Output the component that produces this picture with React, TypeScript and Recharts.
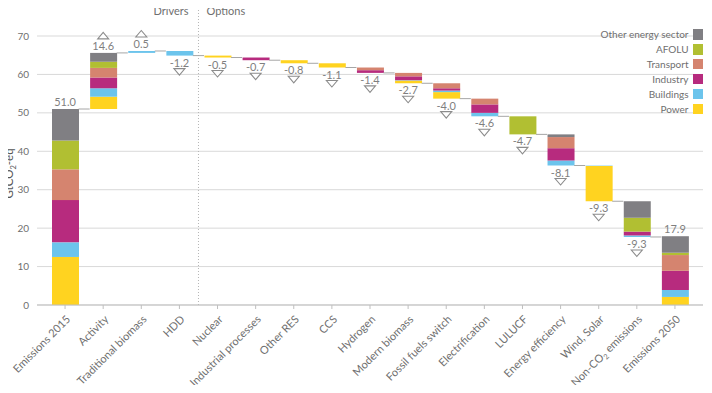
import React from 'react';
import { ComposedChart, Bar, Line, XAxis, YAxis, CartesianGrid, ReferenceLine } from 'recharts';

const categories = [
  'Emissions 2015', 'Activity', 'Traditional biomass', 'HDD', 'Nuclear', 'Industrial processes',
  'Other RES', 'CCS', 'Hydrogen', 'Modern biomass', 'Fossil fuels switch', 'Electrification',
  'LULUCF', 'Energy efficiency', 'Wind, Solar', 'Non-CO2 emissions', 'Emissions 2050',
];
const kinds = ['total', 'up', 'up', 'down', 'down', 'down', 'down', 'down', 'down', 'down', 'down', 'down', 'down', 'down', 'down', 'down', 'total'];
const changes = [51.0, 14.6, 0.5, -1.2, -0.5, -0.7, -0.8, -1.1, -1.4, -2.7, -4.0, -4.6, -4.7, -8.1, -9.3, -9.3, 17.9];

const power = [12.5, 3.2, 0, 0, 0.5, 0, 0.8, 1.1, 0, 0.7, 1.7, 0, 0, 0, 9.2, 0, 2.1];
const buildings = [3.8, 2.2, 0.5, 1.2, 0, 0, 0, 0, 0, 0.1, 0.4, 0.9, 0, 1.3, 0.1, 0.4, 1.8];
const industry = [11.0, 2.8, 0, 0, 0, 0.7, 0, 0, 0.7, 1.0, 0.6, 2.2, 0, 3.2, 0, 1.0, 5.0];
const transport = [8.0, 2.5, 0, 0, 0, 0, 0, 0, 0.7, 0.9, 1.3, 1.5, 0, 2.9, 0, 0, 4.1];
const afolu = [7.5, 1.6, 0, 0, 0, 0, 0, 0, 0, 0, 0, 0, 4.7, 0, 0, 3.6, 0.6];
const other = [8.2, 2.3, 0, 0, 0, 0, 0, 0, 0, 0, 0, 0, 0, 0.7, 0, 4.3, 4.3];

const yTicks = [0, 10, 20, 30, 40, 50, 60, 70];

const sectors = [
  { key: 'power', name: 'Power', color: '#FFD320', values: power },
  { key: 'buildings', name: 'Buildings', color: '#6CC4EC', values: buildings },
  { key: 'industry', name: 'Industry', color: '#B72B7E', values: industry },
  { key: 'transport', name: 'Transport', color: '#D5846F', values: transport },
  { key: 'afolu', name: 'AFOLU', color: '#B1BF32', values: afolu },
  { key: 'other', name: 'Other energy sector', color: '#807F83', values: other },
];

let level = 0;
const data = categories.map((name, i) => {
  const kind = kinds[i];
  let base = 0;
  let end = 0;
  if (kind === 'total') { base = 0; end = changes[i]; }
  else if (kind === 'up') { base = level; end = level + changes[i]; }
  else { end = level + changes[i]; base = end; }
  level = end;
  const row: any = { name, kind, base, end, change: changes[i], isLast: i === categories.length - 1 };
  sectors.forEach((s) => { row[s.key] = s.values[i]; });
  return row;
});

const TEXT = '#6f6f6f';

const Marker = (props: any) => {
  const { cx, cy, payload, index } = props;
  if (cx == null || cy == null) return <g key={`m${index}`} />;
  const half = 13.5;
  const band = 38.12;
  const isDown = payload.kind === 'down';
  return (
    <g key={`m${index}`}>
      {!payload.isLast && (
        <line x1={cx + half} x2={cx + band - half} y1={cy} y2={cy} stroke="#a6a6a6" strokeWidth={1} />
      )}
      <text x={cx} y={isDown ? cy + 11 : cy - 3} textAnchor="middle" fontSize={11} fill="#7f7f7f">
        {payload.change.toFixed(1)}
      </text>
      {payload.kind === 'up' && (
        <polygon
          points={`${cx - 5.5},${cy - 14} ${cx + 5.5},${cy - 14} ${cx},${cy - 20.5}`}
          fill="#fff" stroke="#8c8c8c" strokeWidth={1.1}
        />
      )}
      {isDown && (
        <polygon
          points={`${cx - 5.5},${cy + 13} ${cx + 5.5},${cy + 13} ${cx},${cy + 19.5}`}
          fill="#fff" stroke="#8c8c8c" strokeWidth={1.1}
        />
      )}
    </g>
  );
};

const XTick = (props: any) => {
  const { x, y, payload } = props;
  const v: string = payload.value;
  let content: any = v;
  if (v === 'Non-CO2 emissions') {
    content = (
      <>
        Non-CO<tspan fontSize={7.5} dy={2.5}>2</tspan><tspan dy={-2.5}> emissions</tspan>
      </>
    );
  }
  return (
    <g transform={`translate(${x + 6},${y + 9})`}>
      <text textAnchor="end" transform="rotate(-45)" fontSize={11} fill={TEXT}>
        {content}
      </text>
    </g>
  );
};

const YLabel = (props: any) => {
  const vb = props.viewBox || { x: 0, y: 36, width: 37, height: 269 };
  const x = vb.x + 13;
  const y = vb.y + vb.height / 2 + 3;
  return (
    <text x={x} y={y} transform={`rotate(-90, ${x}, ${y})`} textAnchor="middle" fontSize={11.5} fill="#555">
      GtCO<tspan fontSize={7.5} dy={2.5}>2</tspan><tspan dy={-2.5}>-eq</tspan>
    </text>
  );
};

const Divider = (p: any) => {
  const x = p.x1 + 19.06;
  const yb = Math.max(p.y1, p.y2);
  return (
    <g>
      <line x1={x} x2={x} y1={yb} y2={yb - 300} stroke="#b5b5b5" strokeWidth={1} strokeDasharray="1 2" />
      <text x={x - 10} y={yb - 290} textAnchor="end" fontSize={11} fill={TEXT}>Drivers</text>
      <text x={x + 8} y={yb - 290} textAnchor="start" fontSize={11} fill={TEXT}>Options</text>
    </g>
  );
};

export default function App() {
  const legendItems = [...sectors].reverse();
  return (
    <div style={{ margin: '-8px', position: 'relative', width: 712, height: 393, fontFamily: 'Lato, sans-serif', background: '#fff' }}>
      <ComposedChart
        width={712}
        height={393}
        data={data}
        margin={{ top: 36, right: 9, left: 0, bottom: 0 }}
        barSize={27}
        style={{ overflow: 'visible' }}
      >
        <CartesianGrid vertical={false} stroke="#d9d9d9" />
        <XAxis
          dataKey="name"
          interval={0}
          height={88}
          padding={{ left: 9, right: 9 }}
          tick={<XTick />}
          tickSize={4}
          axisLine={{ stroke: '#bfbfbf' }}
          tickLine={{ stroke: '#bfbfbf' }}
        />
        <YAxis
          width={37}
          domain={[0, 70]}
          ticks={yTicks}
          axisLine={false}
          tickLine={false}
          tick={{ fontSize: 10, fill: TEXT }}
          label={<YLabel />}
        />
        <ReferenceLine segment={[{ x: 'HDD', y: 0 }, { x: 'HDD', y: 70 }]} shape={Divider} ifOverflow="visible" />
        <Bar dataKey="base" stackId="s" fill="transparent" isAnimationActive={false} legendType="none" />
        {sectors.map((s) => (
          <Bar key={s.key} dataKey={s.key} name={s.name} stackId="s" fill={s.color} isAnimationActive={false} />
        ))}
        <Line
          dataKey="end"
          stroke="none"
          dot={Marker}
          activeDot={false}
          isAnimationActive={false}
          legendType="none"
        />
      </ComposedChart>
      <div style={{ position: 'absolute', top: 27, right: 9, display: 'flex', flexDirection: 'column' }}>
        {legendItems.map((s) => (
          <div key={s.key} style={{ display: 'flex', justifyContent: 'flex-end', alignItems: 'center', height: 14.9 }}>
            <span style={{ fontSize: 10, color: TEXT, marginRight: 4, lineHeight: '12px' }}>{s.name}</span>
            <span style={{ width: 10.5, height: 10.5, background: s.color, display: 'inline-block' }} />
          </div>
        ))}
      </div>
    </div>
  );
}
